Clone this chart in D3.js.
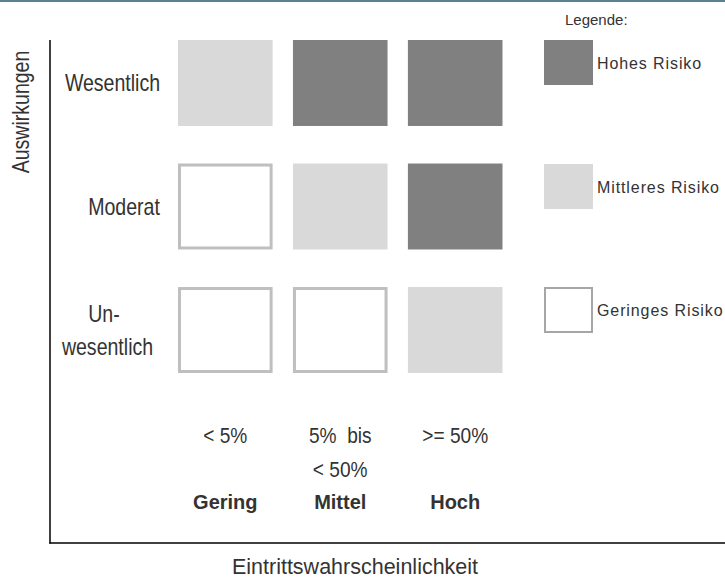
<!DOCTYPE html>
<html>
<head>
<meta charset="utf-8">
<script src="https://cdn.jsdelivr.net/npm/d3@7"></script>
<style>
  body { margin: 0; background: #fff; }
  svg { display: block; }
  text { font-family: "Liberation Sans", Arial, sans-serif; fill: #333; white-space: pre; }
</style>
</head>
<body>
<svg width="725" height="580"></svg>
<script>
let svg = d3.select('svg'),
    width = + svg.attr('width'),
    height = + svg.attr('height');

// data
let likelihood = ['Gering', 'Mittel', 'Hoch'];
let likelihoodRange = [['< 5%'], ['5%  bis', '< 50%'], ['>= 50%']];
let impact = ['Wesentlich', 'Moderat', 'Unwesentlich'];
let impactLabels = [['Wesentlich'], ['Moderat'], ['Un-', 'wesentlich']];
let matrix = [
  ['mittel', 'hoch', 'hoch'],
  ['gering', 'mittel', 'hoch'],
  ['gering', 'gering', 'mittel']
];
let riskLevels = ['hoch', 'mittel', 'gering'];
let legendLabels = ['Hohes Risiko', 'Mittleres Risiko', 'Geringes Risiko'];

let fill = d3.scaleOrdinal().domain(riskLevels).range(['#808080', '#d9d9d9', '#ffffff']);

let x = d3.scaleBand().domain(likelihood).range([178, 502.5]).paddingInner(0.177);
let y = d3.scaleBand().domain(impact).range([40, 373]).paddingInner(0.304);

// narrow-ish text helper
function label(px, py, str, size, sx, opts) {
  opts = opts || {};
  let t = svg.append('text')
    .attr('transform', 'translate(' + px + ',' + py + ')' + (opts.rotate ? ' rotate(' + opts.rotate + ')' : '') + ' scale(' + sx + ',1)')
    .attr('text-anchor', opts.anchor || 'middle')
    .attr('font-size', size)
    .text(str);
  if (opts.bold) t.attr('font-weight', 'bold');
  return t;
}

// top border
svg.append('rect').attr('x', 0).attr('y', 0).attr('width', width).attr('height', 2).attr('fill', '#5a8096');

// axes lines
svg.append('line').attr('x1', 50).attr('x2', 50).attr('y1', 40).attr('y2', 543.5)
   .attr('stroke', '#000').attr('stroke-width', 1.5);
svg.append('line').attr('x1', 49.25).attr('x2', width).attr('y1', 543).attr('y2', 543)
   .attr('stroke', '#000').attr('stroke-width', 1.5);

// cells
let cells = [];
matrix.forEach(function(row, i) {
  row.forEach(function(v, j) {
    cells.push({ row: impact[i], col: likelihood[j], risk: v });
  });
});

svg.append('g').selectAll('rect')
  .data(cells)
  .enter().append('rect')
  .attr('x', function(d) { return x(d.col) + (d.risk === 'gering' ? 1.5 : 0); })
  .attr('y', function(d) { return y(d.row) + (d.risk === 'gering' ? 1.5 : 0); })
  .attr('width', function(d) { return x.bandwidth() - (d.risk === 'gering' ? 3 : 0); })
  .attr('height', function(d) { return y.bandwidth() - (d.risk === 'gering' ? 3 : 0); })
  .attr('fill', function(d) { return fill(d.risk); })
  .attr('stroke', function(d) { return d.risk === 'gering' ? '#bfbfbf' : 'none'; })
  .attr('stroke-width', 3);

// row labels
let rowLabelX = [[112.5], [124], [104, 107.5]];
let rowLabelY = [[91], [215], [322, 355]];
impact.forEach(function(r, i) {
  impactLabels[i].forEach(function(l, k) {
    label(rowLabelX[i][k], rowLabelY[i][k], l, 23, 0.85);
  });
});

// column labels
likelihood.forEach(function(c, j) {
  let cx = x(c) + x.bandwidth() / 2;
  likelihoodRange[j].forEach(function(l, k) {
    label(cx, 443 + k * 34, l, 22.5, 0.85);
  });
  label(cx, 509, c, 20, 1, { bold: true });
});

// axis titles
label(29, 112, 'Auswirkungen', 23, 0.85, { rotate: -90 });
label(355, 574, 'Eintrittswahrscheinlichkeit', 21.5, 1);

// legend
svg.append('text').attr('x', 565).attr('y', 25).attr('font-size', 15).text('Legende:');
let legendY = [40, 164, 287];
riskLevels.forEach(function(r, i) {
  let g = svg.append('g').attr('transform', 'translate(544,' + legendY[i] + ')');
  g.append('rect')
    .attr('x', r === 'gering' ? 1 : 0).attr('y', r === 'gering' ? 1 : 0)
    .attr('width', r === 'gering' ? 47 : 49).attr('height', r === 'gering' ? 44 : 45)
    .attr('fill', fill(r))
    .attr('stroke', r === 'gering' ? '#a6a6a6' : 'none').attr('stroke-width', 2);
  g.append('text').attr('x', 53).attr('y', 29).attr('font-size', 16)
    .attr('letter-spacing', 0.9).text(legendLabels[i]);
});
</script>
</body>
</html>
